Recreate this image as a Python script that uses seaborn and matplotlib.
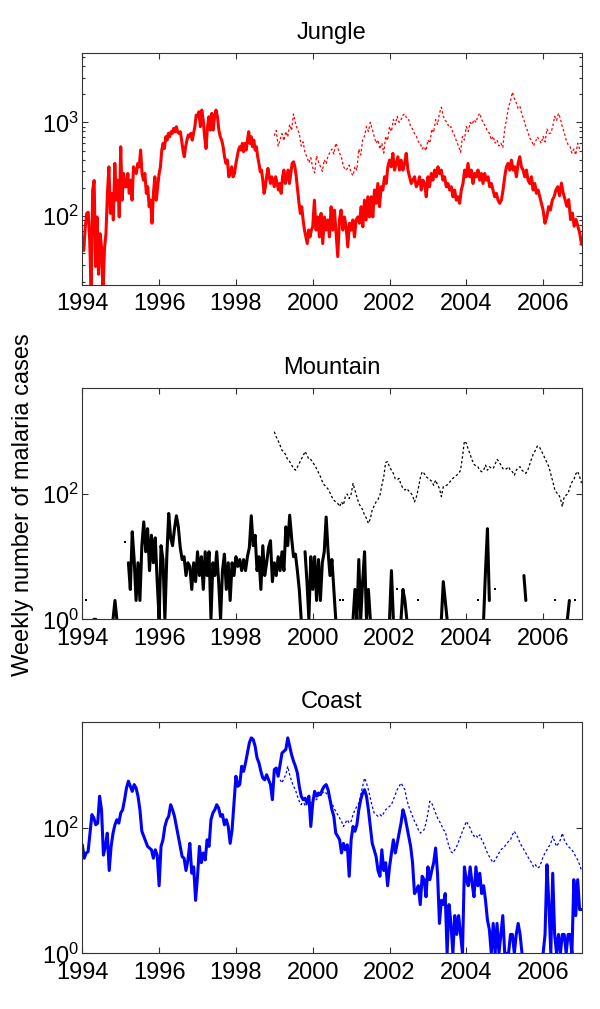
import numpy as np
import matplotlib
matplotlib.use("Agg")
import matplotlib.pyplot as plt
import seaborn as sns
from matplotlib.ticker import LogLocator, NullLocator, NullFormatter, LogFormatterSciNotation

# weekly malaria cases, one list per year
jungle_solid = [
    [48, 43, 77, 107, 110, 55, 15, 190, 240, 29, 98, 24, 65, 47, 15, 45, 65, 175, 336, 107, 175, 91, 365, 148, 242, 98],
    [550, 148, 285, 206, 206, 285, 175, 242, 148, 336, 310, 285, 365, 336, 507, 285, 242, 285, 175, 206, 126, 148, 84, 175, 263, 148, 206],
    [285, 336, 507, 597, 527, 703, 647, 764, 703, 795, 764, 863, 795, 899, 795, 764, 795, 647, 507, 430, 550, 647, 734, 703, 764, 647, 764, 899, 1197],
    [1150, 1300, 900, 1354, 1059, 703, 527, 899, 1150, 828, 1248, 828, 1150, 1354, 1150, 828, 703, 647, 550, 430, 365, 396, 263, 285, 336, 263, 285],
    [365, 430, 507, 550, 507, 597, 487, 597, 507, 647, 795, 597, 703, 550, 647, 507, 550, 430, 365, 297, 310, 242, 175, 206, 263, 323, 263, 223, 263, 233],
    [206, 263, 223, 190, 223, 175, 263, 310, 223, 263, 310, 223, 285, 365, 380, 336, 263, 190, 137, 107, 126, 91, 71, 60, 51, 71, 60, 71],
    [77, 148, 71, 98, 60, 107, 51, 98, 71, 91, 60, 126, 71, 116, 65, 37, 91, 116, 71, 98, 77, 47, 84],
    [71, 91, 60, 91, 98, 84, 126, 77, 148, 91, 161, 98, 161, 98, 190, 137, 223, 126, 206, 190, 263, 223, 336],
    [396, 336, 467, 310, 365, 430, 310, 396, 310, 365, 467, 310, 263, 223, 242, 263, 206, 223, 263, 190, 242, 223, 161],
    [263, 206, 285, 242, 310, 263, 336, 285, 310, 242, 263, 206, 223, 190, 206, 161, 190, 148, 161, 137, 190, 223, 310],
    [263, 365, 263, 310, 223, 285, 263, 310, 242, 285, 223, 285, 242, 263, 206, 223, 190, 161, 175, 148, 137, 148, 190],
    [263, 336, 365, 310, 396, 310, 336, 263, 365, 430, 336, 310, 263, 310, 242, 223, 263, 190, 223, 175, 190, 161, 137],
    [116, 84, 98, 126, 116, 148, 161, 190, 206, 165, 225, 177, 150, 127, 150, 92, 108, 78, 92, 78, 66, 50],
]
jungle_dotted = [
    [720, 820, 560, 650, 760, 640, 800, 700, 950, 820, 1230, 980, 850, 760, 560, 620, 470, 430, 370, 420],
    [330, 290, 440, 380, 340, 300, 400, 360, 440, 480, 520, 460, 600, 540, 470, 420, 340, 310, 320, 350],
    [290, 270, 340, 310, 520, 450, 650, 720, 900, 800, 1000, 850, 710, 600, 650, 520, 600, 470, 710, 640],
    [900, 800, 1070, 950, 1160, 1000, 1070, 1200, 1230, 1100, 1070, 900, 850, 760, 710, 620, 600, 520, 553, 500],
    [650, 600, 850, 780, 1070, 950, 1250, 1450, 1160, 1050, 1000, 880, 900, 780, 710, 620, 553, 480, 710, 650],
    [900, 800, 1000, 950, 1070, 1000, 1160, 1250, 1070, 980, 900, 800, 770, 650, 710, 600, 650, 560, 600, 540],
    [850, 1100, 1470, 1700, 2100, 1800, 1620, 1400, 1470, 1200, 1070, 900, 800, 680, 640, 560, 620, 700, 650, 600],
    [710, 620, 850, 760, 770, 900, 1160, 1050, 1250, 1100, 900, 780, 650, 580, 553, 470, 520, 450, 600, 520, 520],
]

mountain_solid = [
    [0, 0, 2, 0, 0, 0, 1, 1, 0, 0, 0, 0, 0, 0, 0, 0, 1, 2, 1, 0],
    [0, 0, 17, 0, 8, 3, 25, 9, 2, 8, 2, 15, 36, 12, 28, 6, 22, 8, 20, 4],
    [1, 15, 9, 1, 10, 49, 20, 15, 28, 45, 30, 14, 9, 10, 5, 8, 7, 3, 8, 4],
    [12, 5, 10, 3, 12, 5, 12, 1, 8, 5, 12, 4, 1, 6, 11, 3, 8, 2, 8, 5],
    [10, 7, 9, 6, 9, 6, 10, 14, 45, 15, 22, 6, 10, 3, 15, 5, 8, 14, 18, 4],
    [8, 5, 10, 6, 12, 6, 30, 15, 46, 20, 10, 11, 6, 3, 1, 0, 12, 4, 1, 10],
    [3, 10, 2, 9, 2, 8, 12, 43, 12, 5, 9, 3, 1, 0, 2, 0, 2, 0, 0, 0],
    [0, 1, 3, 1, 9, 1, 4, 12, 1, 3, 1, 0, 0, 0, 0, 0, 0, 0, 0, 0],
    [1, 6, 1, 0, 3, 0, 1, 3, 2, 1, 0, 0, 0, 0, 0, 2, 0, 0, 0, 0],
    [0, 0, 0, 0, 0, 0, 0, 1, 4, 2, 1, 0, 0, 0, 0, 0, 0, 0, 0, 0],
    [0, 0, 0, 0, 0, 0, 2, 0, 0, 1, 6, 28, 2, 0, 0, 3, 0, 0, 0, 0],
    [0, 0, 0, 0, 0, 0, 0, 0, 0, 0, 5, 2, 0, 0, 0, 0, 0, 0, 0, 0],
    [0, 0, 0, 0, 0, 0, 2, 0, 0, 0, 0, 0, 1, 2, 0, 0, 2, 0, 0, 0],
]
mountain_dotted = [
    [990, 820, 710, 600, 500, 470, 420, 350, 330, 290, 260, 240, 270, 310, 360, 405, 480, 420, 357, 357],
    [320, 290, 255, 220, 190, 158, 140, 131, 120, 105, 90, 80, 75, 71, 63, 75, 67, 91, 100, 85],
    [100, 148, 115, 91, 71, 63, 56, 46, 41, 34, 40, 56, 65, 75, 82, 96, 138, 190, 320, 330],
    [270, 240, 214, 175, 170, 178, 140, 125, 116, 123, 112, 105, 95, 75, 90, 123, 180, 227, 214, 190],
    [180, 170, 160, 138, 167, 140, 123, 91, 131, 135, 140, 150, 165, 178, 190, 200, 215, 240, 395, 700],
    [650, 520, 430, 350, 300, 280, 273, 240, 227, 240, 290, 240, 273, 260, 255, 300, 357, 330, 290, 255],
    [245, 255, 273, 240, 227, 200, 240, 265, 273, 240, 227, 214, 240, 300, 370, 445, 500, 585, 570, 500],
    [430, 370, 320, 273, 210, 160, 120, 105, 100, 85, 63, 91, 96, 102, 130, 155, 170, 210, 230, 190, 150],
]

coast_solid = [
    [54, 33, 40, 42, 83, 164, 145, 113, 120, 323, 196, 37, 51, 83, 21, 51, 83, 113, 136, 120],
    [174, 196, 284, 437, 560, 465, 386, 495, 437, 323, 196, 89, 74, 61, 51, 48, 45, 33, 45, 37],
    [12, 51, 65, 106, 136, 154, 236, 196, 154, 106, 74, 51, 35, 33, 21, 31, 57, 19, 24, 7],
    [17, 51, 28, 40, 31, 65, 51, 136, 174, 196, 236, 209, 154, 164, 113, 136, 106, 57, 94, 250],
    [672, 465, 495, 970, 806, 1100, 1580, 2300, 2760, 2600, 2030, 1320, 1100, 806, 630, 590, 710, 590, 495, 284],
    [860, 910, 672, 1030, 1580, 1690, 1800, 2760, 2030, 1480, 1170, 970, 760, 465, 323, 284, 300, 250, 323, 106],
    [250, 386, 323, 363, 342, 410, 465, 495, 410, 284, 196, 154, 83, 74, 65, 40, 57, 45, 54, 17],
    [65, 106, 89, 113, 196, 284, 363, 410, 323, 196, 106, 57, 45, 35, 21, 17, 45, 21, 28, 12],
    [24, 40, 65, 40, 57, 83, 120, 196, 154, 106, 74, 51, 28, 9, 10, 12, 6, 17, 15, 8],
    [24, 15, 21, 28, 48, 19, 3, 7, 6, 9, 1, 6, 3, 1, 4, 2, 4, 2, 1, 24],
    [15, 12, 24, 13, 8, 24, 12, 19, 9, 12, 7, 3.4, 2.4, 1, 3, 1, 3, 1, 2, 4],
    [1, 1, 1, 2, 2, 1, 2, 3, 2, 1, 0, 0, 0, 0, 0, 0, 0, 0, 0, 0],
    [1, 2, 26, 6, 1, 19, 2, 1, 2, 1, 2, 2, 1, 2, 2, 1, 15, 4, 15, 5, 5],
]
coast_dotted = [
    [590, 525, 630, 710, 970, 710, 560, 465, 410, 323, 268, 236, 284, 222, 250, 284, 250],
    [300, 300, 284, 323, 342, 363, 386, 363, 323, 284, 250, 209, 185, 164, 145, 128, 106, 120, 136, 120],
    [128, 164, 196, 222, 250, 342, 465, 630, 525, 410, 300, 222, 174, 164, 154, 164, 154, 174, 196, 210],
    [222, 236, 284, 342, 410, 465, 525, 465, 410, 284, 222, 185, 154, 128, 113, 94, 83, 89, 94, 120],
    [174, 268, 250, 209, 174, 145, 128, 113, 94, 89, 65, 51, 42, 40, 45, 51, 61, 74, 89, 105],
    [128, 113, 100, 83, 74, 78, 70, 78, 65, 57, 48, 40, 35, 31, 28, 31, 35, 40, 45, 48],
    [51, 57, 61, 65, 78, 89, 78, 70, 57, 51, 45, 40, 35, 31, 28, 24, 26, 23, 24, 28],
    [35, 40, 45, 51, 57, 74, 61, 51, 57, 65, 83, 65, 57, 51, 48, 45, 40, 35, 31, 26, 21],
]


def expand(years, first_year, start=0.0):
    # spread each year's readings evenly over that year
    t, v = [], []
    for i, vals in enumerate(years):
        y0 = first_year + i + (start if i == 0 else 0.0)
        last = i == len(years) - 1
        t.extend(np.linspace(y0, first_year + i + 1, len(vals), endpoint=last))
        v.extend(vals)
    return np.array(t), np.array(v, dtype=float)


sns.set_style("ticks")
plt.rcParams["font.family"] = ["Liberation Sans", "DejaVu Sans"]
plt.rcParams["mathtext.default"] = "regular"
plt.rcParams["text.color"] = "black"
plt.rcParams["axes.labelcolor"] = "black"

fig = plt.figure(figsize=(6, 10.09), dpi=100)
boxes = [[0.1372, 0.7175, 0.832, 0.2296],
         [0.1372, 0.3862, 0.832, 0.2296],
         [0.1372, 0.0552, 0.832, 0.2290]]
panels = [
    ("Jungle", "red", jungle_solid, jungle_dotted, 0.0, (18.4, 5450), [100, 1000], True),
    ("Mountain", "black", mountain_solid, mountain_dotted, 0.0, (1, 5000), [1, 100], False),
    ("Coast", "blue", coast_solid, coast_dotted, 0.15, (1, 4900), [1, 100], False),
]

for box, (name, col, solid, dotted, dstart, ylim, yt, minor) in zip(boxes, panels):
    ax = fig.add_axes(box)
    ax.set_yscale("log")

    ts, vs = expand(solid, 1994)
    vs = np.where(vs > 0, vs, np.nan)
    ax.plot(ts, vs, color=col, lw=2.2, solid_joinstyle="round")
    # lone weeks between zero weeks show as dots
    ok = ~np.isnan(vs)
    lone = ok & ~np.r_[False, ok[:-1]] & ~np.r_[ok[1:], False]
    ax.plot(ts[lone], vs[lone], ls="none", marker="s", ms=1.5, mew=0, color=col)

    td, vd = expand(dotted, 1999, dstart)
    sns.lineplot(x=td, y=vd, ax=ax, color=col, lw=0.9, linestyle=(0, (2, 1.8)),
                 estimator=None, sort=True)

    ax.set_xlim(1994, 2007)
    ax.set_ylim(*ylim)
    ax.set_xticks(range(1994, 2007, 2))
    ax.set_yticks(yt)
    ax.yaxis.set_major_formatter(LogFormatterSciNotation())
    if minor:
        ax.yaxis.set_minor_locator(LogLocator(base=10, subs=np.arange(2, 10) * 1.0, numticks=20))
        ax.yaxis.set_minor_formatter(NullFormatter())
    else:
        ax.yaxis.set_minor_locator(NullLocator())
    ax.xaxis.set_minor_locator(NullLocator())
    ax.tick_params(which="both", direction="in", top=True, right=True,
                   color="#333333", width=0.8, labelsize=17, labelcolor="black")
    ax.tick_params(which="major", length=4.5)
    ax.tick_params(which="minor", length=2.2)
    ax.tick_params(axis="x", pad=6)
    ax.tick_params(axis="y", pad=2.5)
    for s in ax.spines.values():
        s.set_color("#333333")
        s.set_linewidth(0.8)
    ax.set_xlabel("")
    ax.set_ylabel("")
    ax.set_title(name, fontsize=17, pad=10, color="black")

fig.text(0.038, 0.5, "Weekly number of malaria cases", rotation=90,
         ha="center", va="center", fontsize=17, color="black")

fig.savefig("out.png", dpi=100)
